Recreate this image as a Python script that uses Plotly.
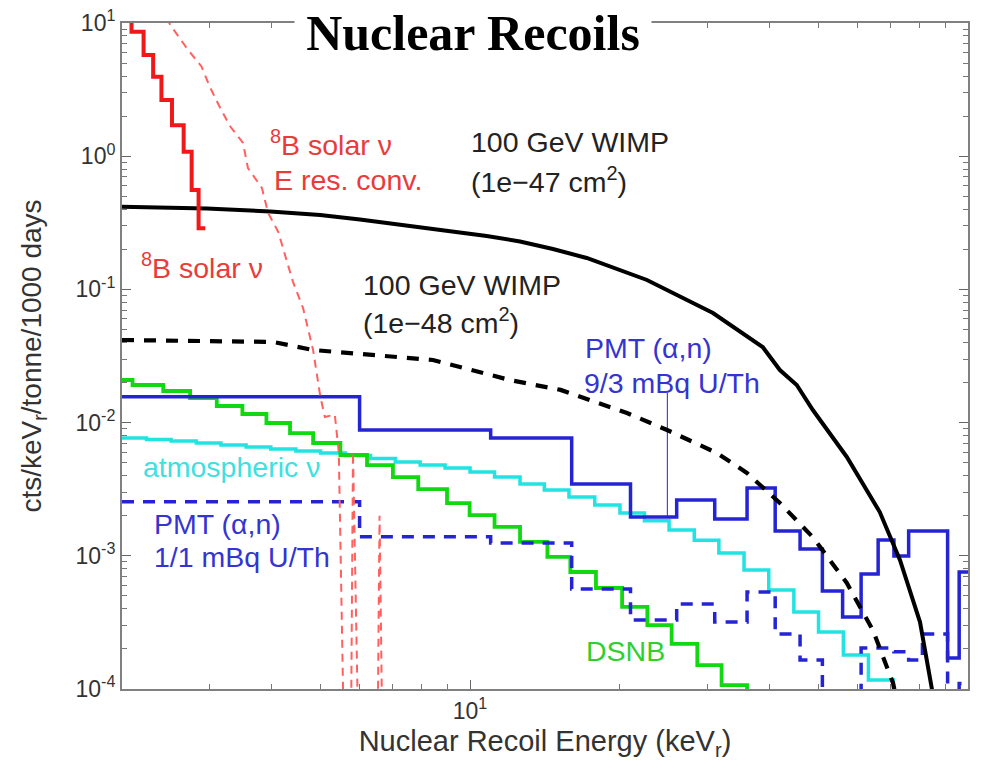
import plotly.graph_objects as go

# ---------------- data ----------------
# 8B solar neutrino, histogram (keV edges, counts)
red_solid_edges = [2.0, 2.09, 2.21, 2.31, 2.40, 2.52, 2.66, 2.76, 2.85, 2.94]
red_solid_vals = [20.0, 8.6, 5.75, 3.95, 2.64, 1.71, 1.08, 0.557, 0.288]

# 8B solar neutrino convolved with energy resolution
red_dash_E = [2.46, 2.50, 2.70, 2.89, 3.00, 3.15, 3.30, 3.50, 3.58, 3.82, 3.93, 4.12, 4.25,
              4.41, 4.62, 4.84, 5.00, 5.11, 5.35, 5.45, 5.62, 5.75, 5.82, 6.01, 6.50, 6.58, 6.70]
red_dash_v = [11.0, 9.66, 6.46, 4.70, 3.33, 2.30, 1.67, 1.26, 0.815, 0.577, 0.375, 0.27, 0.181,
              0.114, 0.0724, 0.035, 0.016, 0.011, 0.0115, 0.006, 0.00001, 0.00001, 0.006, 0.00001,
              0.00001, 0.002, 0.00001]

# 100 GeV WIMP, 1e-47 cm2
wimp47_E = [2.0, 2.96, 3.97, 5.0, 6.01, 7.12, 8.18, 9.40, 10.8, 12.6, 14.67, 17.15, 20.0, 22.66,
            30.75, 33.7, 38.7, 41.9, 45.3, 48.8, 57.1, 66.5, 73.0, 80.1, 83.9, 85.4]
wimp47_v = [0.418, 0.405, 0.3844, 0.3619, 0.3347, 0.3097, 0.2891, 0.2698, 0.2518, 0.2289, 0.201,
            0.1721, 0.1398, 0.1177, 0.0665, 0.0522, 0.0369, 0.0248, 0.01916, 0.01243, 0.00552,
            0.00213, 0.00093, 0.000318, 0.000123, 0.0000827]

# 100 GeV WIMP, 1e-48 cm2
wimp48_E = [2.0, 4.02, 4.84, 5.82, 8.42, 10.62, 12.0, 15.2, 20.66, 24.87, 31.3, 35.98, 41.9,
            48.8, 57.1, 64.4, 70.7, 71.9]
wimp48_v = [0.0417, 0.0403, 0.0351, 0.0333, 0.0295, 0.0236, 0.0209, 0.0176, 0.0118, 0.0088,
            0.00591, 0.00419, 0.00249, 0.00138, 0.000625, 0.000277, 0.000111, 0.0000827]

# PMT (alpha,n) 9/3 mBq U/Th
pmt93_edges = [2, 6, 11, 16, 21, 26, 31, 36, 41, 46, 51, 56, 61, 66, 71, 76, 91, 96, 100]
pmt93_vals = [0.01564, 0.0088, 0.00766, 0.00346, 0.001956, 0.002624, 0.00189, 0.00323, 0.001535,
              0.001125, 0.000544, 0.000347, 0.00073, 0.001314, 0.000997, 0.001535, 0.000171,
              0.000756]

# PMT (alpha,n) 1/1 mBq U/Th
pmt11_edges = [2, 6, 11, 16, 21, 26, 31, 36, 41, 46, 51, 61, 66, 71, 76, 81, 91, 96, 100]
pmt11_vals = [0.00255, 0.00139, 0.001247, 0.000564, 0.00033, 0.000435, 0.000318, 0.000535,
              0.000259, 0.000165, 0.00005, 0.000203, 0.000203, 0.00019, 0.000165, 0.000259,
              0.00005, 0.00011]

# atmospheric neutrinos
atm_edges = [2.0, 2.24, 2.51, 2.82, 3.16, 3.55, 3.98, 4.47, 5.01, 5.62, 6.31, 7.08, 7.94, 8.91,
             10.0, 11.2, 12.6, 14.1, 15.8, 17.8, 20.0, 22.4, 25.1, 28.2, 31.6, 35.5, 39.8, 44.7,
             50.1, 56.2, 63.1, 70.8, 79.4]
atm_vals = [0.00766, 0.00746, 0.00728, 0.00703, 0.00679, 0.00656, 0.00634, 0.00612, 0.00591,
            0.00566, 0.00538, 0.00506, 0.0048, 0.00456, 0.00426, 0.0039, 0.00346, 0.00312,
            0.00276, 0.00241, 0.0021, 0.00183, 0.00156, 0.00131, 0.00105, 0.000782, 0.000553,
            0.000379, 0.000268, 0.00018, 0.000117, 0.00005]

# DSNB
dsnb_edges = [2.0, 2.1, 2.42, 2.74, 3.10, 3.49, 3.90, 4.35, 4.84, 5.49, 6.21, 7.0, 7.87, 8.99,
              9.98, 11.2, 12.6, 14.3, 15.9, 17.9, 20.2, 22.7, 25.4, 28.6, 32.0, 36.0, 40.0]
dsnb_vals = [0.02089, 0.01915, 0.01727, 0.0153, 0.01332, 0.0116, 0.00993, 0.00835, 0.00703,
             0.00571, 0.0048, 0.0039, 0.00317, 0.00249, 0.00202, 0.00165, 0.00127, 0.00098,
             0.000756, 0.000573, 0.000413, 0.000302, 0.000218, 0.000151, 0.000107, 0.00005]

# pointer from the "9/3 mBq" label to its histogram
pointer_E = [24.9, 24.9]
pointer_v = [0.0167, 0.00196]

x_tick_vals = [10, 100]
x_tick_text = ["10<sup>1</sup>", "10<sup>2</sup>"]
y_tick_vals = [1e-4, 1e-3, 1e-2, 1e-1, 1, 10]
y_tick_text = ["10<sup>-4</sup>", "10<sup>-3</sup>", "10<sup>-2</sup>", "10<sup>-1</sup>",
               "10<sup>0</sup>", "10<sup>1</sup>"]

# ---------------- style ----------------
RED = "#f01818"
RED_D = "#ff6060"
BLUE = "#2424d4"
CYAN = "#22e2e2"
GREEN = "#12d812"
SANS = "Liberation Sans, Arial, sans-serif"
TXT = 28.5

# plot area in pixels (for text placement)
L, R, T, B = 122, 968, 23, 689


def px(xp, yp):
    return (xp - L) / (R - L), (B - yp) / (B - T)


def steps(edges, vals):
    return list(edges), list(vals) + [vals[-1]]


fig = go.Figure()


def add_step(edges, vals, color, width, dash="solid"):
    x, y = steps(edges, vals)
    fig.add_trace(go.Scatter(x=x, y=y, mode="lines", line_shape="hv",
                             line=dict(color=color, width=width, dash=dash),
                             hoverinfo="skip", showlegend=False))


def add_line(x, y, color, width, dash="solid"):
    fig.add_trace(go.Scatter(x=x, y=y, mode="lines",
                             line=dict(color=color, width=width, dash=dash),
                             hoverinfo="skip", showlegend=False))


add_step(atm_edges, atm_vals, CYAN, 3.5)
add_step(dsnb_edges, dsnb_vals, GREEN, 3.8)
add_step(pmt11_edges, pmt11_vals, BLUE, 3.5, "12px,9px")
add_step(pmt93_edges, pmt93_vals, BLUE, 3.5)
add_line(pointer_E, pointer_v, BLUE, 1)
add_line(wimp48_E, wimp48_v, "black", 4.2, "12px,10px")
add_line(wimp47_E, wimp47_v, "black", 4)
add_line(red_dash_E, red_dash_v, RED_D, 2, "8px,6px")
add_step(red_solid_edges, red_solid_vals, RED, 4)

annos = [
    # (text, left px, center px, color)
    ("<sup>8</sup>B solar \u03bd", 268, 143, "#e83c3c"),
    ("E res. conv.", 272, 180, "#e83c3c"),
    ("100 GeV WIMP", 469, 142, "#222222"),
    ("(1e\u221247 cm<sup>2</sup>)", 469, 180, "#222222"),
    ("<sup>8</sup>B solar \u03bd", 139, 266, "#e83c3c"),
    ("100 GeV WIMP", 361, 285, "#222222"),
    ("(1e\u221248 cm<sup>2</sup>)", 361, 321, "#222222"),
    ("PMT (\u03b1,n)", 583, 348, "#3434d0"),
    ("9/3 mBq U/Th", 582, 383, "#3434d0"),
    ("atmospheric \u03bd", 141, 467, "#3ee0e0"),
    ("PMT (\u03b1,n)", 152, 524, "#3434d0"),
    ("1/1 mBq U/Th", 152, 557, "#3434d0"),
    ("DSNB", 584, 651, "#2ed02e"),
]
for text, xl, yc, col in annos:
    xp, yp = px(xl, yc)
    fig.add_annotation(text=text, x=xp, y=yp, xref="paper", yref="paper",
                       xanchor="left", yanchor="middle", showarrow=False,
                       font=dict(family=SANS, size=TXT, color=col))

# title box
tx, ty = px(473, 33)
fig.add_annotation(text="<b>Nuclear Recoils</b>", x=tx, y=ty, xref="paper", yref="paper",
                   xanchor="center", yanchor="middle", showarrow=False,
                   font=dict(family="Liberation Serif, Times New Roman, serif", size=50,
                             color="black"),
                   bgcolor="white", width=356, height=58, borderpad=0)

x_minor = [3, 4, 5, 6, 7, 8, 9, 20, 30, 40, 50, 60, 70, 80, 90]
y_minor = [m * 10.0 ** e for e in range(-4, 1) for m in range(2, 10)]

axis_common = dict(
    type="log", showline=True, linecolor="#808080", linewidth=2, mirror="ticks",
    ticks="inside", ticklen=9, tickwidth=1.2, tickcolor="#666666",
    showgrid=False, zeroline=False, tickmode="array",
    tickfont=dict(family=SANS, size=23, color="#333333"),
)

fig.update_xaxes(
    **axis_common, range=[0.30103, 2.0],
    tickvals=x_tick_vals, ticktext=x_tick_text,
    minor=dict(ticks="inside", ticklen=5, tickcolor="#777777", tickmode="array",
               tickvals=x_minor, showgrid=False),
    title=dict(text="Nuclear Recoil Energy (keV<sub>r</sub>)",
               font=dict(family=SANS, size=29, color="#333333"), standoff=8),
)
fig.update_yaxes(
    **axis_common, range=[-4, 1],
    tickvals=y_tick_vals, ticktext=y_tick_text,
    minor=dict(ticks="inside", ticklen=5, tickcolor="#777777", tickmode="array",
               tickvals=y_minor, showgrid=False),
    title=dict(text="cts/keV<sub>r</sub>/tonne/1000 days",
               font=dict(family=SANS, size=28, color="#333333"), standoff=26),
)

fig.update_layout(
    width=983, height=768,
    margin=dict(l=L, r=983 - R, t=T, b=768 - B, autoexpand=False),
    paper_bgcolor="white", plot_bgcolor="white",
    showlegend=False,
)

fig.write_html("out.html")
